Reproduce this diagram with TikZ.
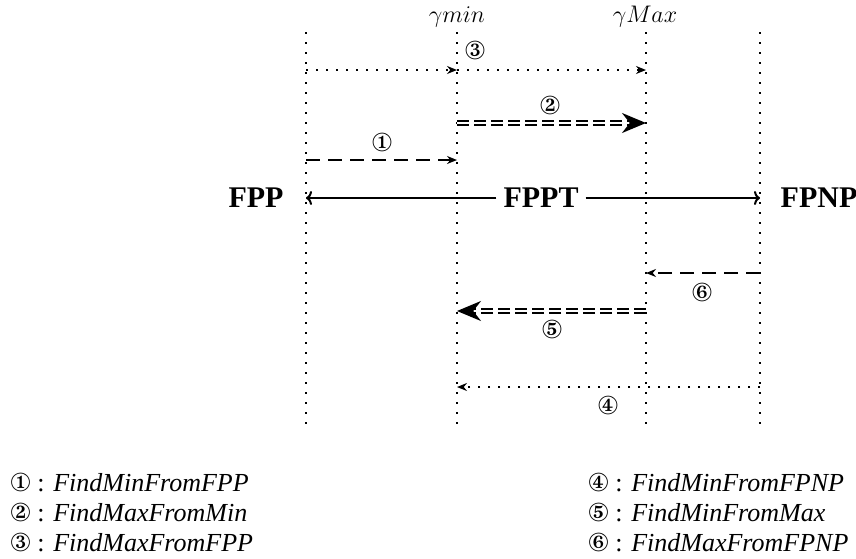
\documentclass[tikz,border=0pt]{standalone}
\usepackage{fontspec}
\setmainfont{Liberation Serif}
\usepackage{pifont}
\usetikzlibrary{arrows.meta}
\tikzset{
  guide/.style={line width=0.8pt, dash pattern=on 0.8pt off 4.2pt},
  dotarrow/.style={line width=0.8pt, dash pattern=on 0.8pt off 4.2pt, -{Stealth[length=5pt,width=4pt]}},
  dasharrow/.style={line width=1.1pt, dash pattern=on 7pt off 4pt, -{Stealth[length=5pt,width=4pt]}},
  dblarrow/.style={double, line width=0.9pt, double distance=1.1pt, dash pattern=on 6pt off 2.5pt, -{Stealth[length=12pt,width=10pt]}},
  mainarrow/.style={line width=1pt, -{To[length=3pt,width=7pt]}},
  big/.style={font=\fontsize{15}{18}\selectfont\bfseries},
  num/.style={font=\fontsize{13}{15}\selectfont, inner sep=0pt},
  gam/.style={font=\fontsize{12}{14}\selectfont, anchor=base, inner sep=0pt},
  legend/.style={font=\fontsize{13}{15}\selectfont, anchor=west, inner sep=0pt},
}
\begin{document}
\begin{tikzpicture}[x=0.5pt,y=-0.5pt]
\useasboundingbox (0,0) rectangle (856,558);

% vertical guides
\foreach \n/\x in {1/306,2/457,3/646,4/760}{
  \coordinate (t\n) at (\x,32);
  \coordinate (b\n) at (\x,424);
  \draw[guide] (t\n) -- (b\n);
}

% threshold labels
\node[gam] (gmin) at (457,22) {$\gamma min$};
\node[gam] (gmax) at (645,22) {$\gamma Max$};

% end points of the search arrows
\coordinate (p3a) at (306,70);  \coordinate (p3b) at (457,70);  \coordinate (p3c) at (646,70);
\coordinate (p2a) at (457,123); \coordinate (p2b) at (646,123);
\coordinate (p1a) at (306,160); \coordinate (p1b) at (457,160);
\coordinate (p6a) at (760,273); \coordinate (p6b) at (646,273);
\coordinate (p5a) at (646,311); \coordinate (p5b) at (457,311);
\coordinate (p4a) at (760,387); \coordinate (p4b) at (457,387);
\coordinate (mL) at (306,198);  \coordinate (mR) at (760,198);

% main axis
\node[big] (fpp)  at (256,198) {FPP};
\node[big] (fppt) at (541,198) {FPPT};
\node[big] (fpnp) at (819,198) {FPNP};
\draw[mainarrow] (fppt) -- (mL);
\draw[mainarrow] (fppt) -- (mR);

% search arrows
\draw[dotarrow] (p3a) -- (p3b);
\draw[dotarrow] (p3b) -- (p3c);
\draw[dblarrow] (p2a) -- (p2b);
\draw[dasharrow] (p1a) -- (p1b);
\draw[dasharrow] (p6a) -- (p6b);
\draw[dblarrow] (p5a) -- (p5b);
\draw[dotarrow] (p4a) -- (p4b);

% arrow numbers
\node[num] (c3) at (475,50)  {\ding{174}};
\node[num] (c2) at (550,105) {\ding{173}};
\node[num] (c1) at (382,142) {\ding{172}};
\node[num] (c6) at (702,292) {\ding{177}};
\node[num] (c5) at (552,329) {\ding{176}};
\node[num] (c4) at (608,405) {\ding{175}};

% legend
\node[legend] (l1) at (10,482) {\ding{172} : \textit{FindMinFromFPP}};
\node[legend] (l2) at (10,512) {\ding{173} : \textit{FindMaxFromMin}};
\node[legend] (l3) at (10,542) {\ding{174} : \textit{FindMaxFromFPP}};
\node[legend] (l4) at (588,482) {\ding{175} : \textit{FindMinFromFPNP}};
\node[legend] (l5) at (588,512) {\ding{176} : \textit{FindMinFromMax}};
\node[legend] (l6) at (588,542) {\ding{177} : \textit{FindMaxFromFPNP}};
\end{tikzpicture}
\end{document}
